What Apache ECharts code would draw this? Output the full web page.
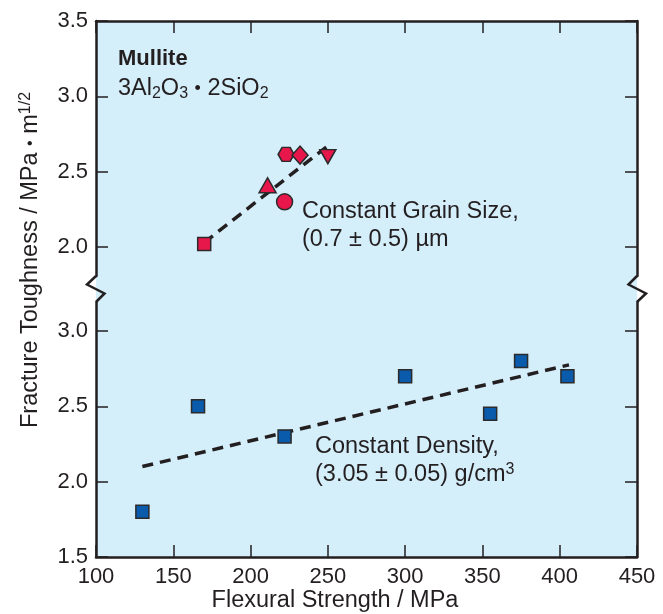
<!DOCTYPE html>
<html>
<head>
<meta charset="utf-8">
<script src="https://cdn.jsdelivr.net/npm/echarts@6/dist/echarts.min.js"></script>
<style>
  html, body { margin: 0; padding: 0; background: #fff; }
  #chart { width: 663px; height: 614px; }
</style>
</head>
<body>
<div id="chart"></div>
<script>
// x axis ticks (MPa)
const strengthTicks = [100, 150, 200, 250, 300, 350, 400, 450];
// y ticks for the two halves of the broken axis
const upperTicks = [2.0, 2.5, 3.0, 3.5];
const lowerTicks = [1.5, 2.0, 2.5, 3.0];

// constant grain size (upper half)
const grainStrength = [170, 211, 222, 223, 232, 250];
const grainToughness = [2.02, 2.41, 2.30, 2.615, 2.61, 2.60];
const grainFitX = [170, 251];
const grainFitY = [2.03, 2.68];

// constant density (lower half)
const densityStrength = [130, 166, 222, 300, 355, 375, 405];
const densityToughness = [1.80, 2.50, 2.30, 2.70, 2.45, 2.80, 2.70];
const densityFitX = [130, 406];
const densityFitY = [2.10, 2.775];

const ink = '#231f20';
const bg = '#d4eefa';
const font = '"Liberation Sans", Arial, sans-serif';
const gridLeft = 96, gridRight = 637;

let myChart = echarts.init(document.getElementById('chart'));

function yAxis(gridIndex, min, max, ticks, pos) {
    return {
        type: 'value', gridIndex: gridIndex, position: pos, min: min, max: max,
        axisLine: {show: true, onZero: false, lineStyle: {color: ink, width: 2.5}},
        axisTick: {show: true, inside: true, length: 12, customValues: ticks, lineStyle: {color: ink, width: 1.5}},
        axisLabel: {
            show: pos === 'left', customValues: ticks, margin: 8,
            color: ink, fontSize: 22, fontFamily: font,
            formatter: v => v.toFixed(1)
        },
        splitLine: {show: false}
    };
}
function xAxis(gridIndex, pos, labels) {
    return {
        type: 'value', gridIndex: gridIndex, position: pos,
        min: strengthTicks[0], max: strengthTicks[strengthTicks.length - 1], interval: 50,
        axisLine: {show: true, onZero: false, lineStyle: {color: ink, width: 2.5}},
        axisTick: {show: true, inside: true, length: 12, lineStyle: {color: ink, width: 1.5}},
        axisLabel: {show: labels, margin: 9, color: ink, fontSize: 22, fontFamily: font},
        splitLine: {show: false}
    };
}

const hexagon = 'path://M-1,0 L-0.5,-0.866 L0.5,-0.866 L1,0 L0.5,0.866 L-0.5,0.866 Z';
const grainSymbols = ['rect', 'triangle', 'circle', hexagon, 'diamond', 'triangle'];
const grainSizes = [13, [17, 15], 16, [16, 14], [16, 18], [16, 14]];
const grainRotate = [0, 0, 0, 0, 0, 180];

const markerStyle = {borderColor: '#2b2b2b', borderWidth: 1.5, opacity: 1};
const txt = '23.5px ' + font;
const supSub = {fontSize: 16, fontFamily: font, fill: ink, lineHeight: 14};

myChart.setOption({
    animation: false,
    backgroundColor: '#fff',
    grid: [
        {left: gridLeft, width: gridRight - gridLeft, top: 21, height: 255, show: true, backgroundColor: bg, borderWidth: 0},
        {left: gridLeft, width: gridRight - gridLeft, top: 302, height: 255, show: true, backgroundColor: bg, borderWidth: 0}
    ],
    xAxis: [
        xAxis(0, 'top', false),
        xAxis(1, 'bottom', true)
    ],
    yAxis: [
        yAxis(0, 1.808, 3.5, upperTicks, 'left'),
        yAxis(0, 1.808, 3.5, upperTicks, 'right'),
        yAxis(1, 1.5, 3.192, lowerTicks, 'left'),
        yAxis(1, 1.5, 3.192, lowerTicks, 'right')
    ],
    series: [
        {
            type: 'line', xAxisIndex: 0, yAxisIndex: 0, symbol: 'none', z: 3,
            lineStyle: {color: ink, width: 3.5, type: [11, 7]},
            data: grainFitX.map((x, i) => [x, grainFitY[i]])
        },
        {
            type: 'scatter', xAxisIndex: 0, yAxisIndex: 0, z: 4,
            itemStyle: Object.assign({color: '#e8174b'}, markerStyle),
            data: grainStrength.map((x, i) => ({
                value: [x, grainToughness[i]],
                symbol: grainSymbols[i], symbolSize: grainSizes[i], symbolRotate: grainRotate[i]
            }))
        },
        {
            type: 'line', xAxisIndex: 1, yAxisIndex: 2, symbol: 'none', z: 3,
            lineStyle: {color: ink, width: 3.5, type: [11, 7]},
            data: densityFitX.map((x, i) => [x, densityFitY[i]])
        },
        {
            type: 'scatter', xAxisIndex: 1, yAxisIndex: 2, z: 4,
            symbol: 'rect', symbolSize: 13,
            itemStyle: Object.assign({color: '#0a5bab'}, markerStyle),
            data: densityStrength.map((x, i) => [x, densityToughness[i]])
        }
    ],
    graphic: [
        // fill the gap at the axis break
        {type: 'rect', z: -10, shape: {x: gridLeft, y: 275, width: gridRight - gridLeft, height: 28}, style: {fill: bg}},
        {type: 'polyline', z: 10, shape: {points: [[96, 276], [87, 284.5], [104.5, 293.5], [96, 302]]},
         style: {stroke: ink, lineWidth: 2.5, fill: null}},
        {type: 'polyline', z: 10, shape: {points: [[637, 276], [628.5, 284.5], [646, 293.5], [637, 302]]},
         style: {stroke: ink, lineWidth: 2.5, fill: null}},
        {type: 'text', z: 10, x: 118, y: 59, style: {
            text: 'Mullite', fill: ink, font: 'bold 22px ' + font, verticalAlign: 'middle'}},
        {type: 'text', z: 10, x: 118, y: 89, style: {
            text: '3Al{s|2}O{s|3} {d|•} 2SiO{s|2}', fill: ink, font: txt,
            verticalAlign: 'middle', lineHeight: 26,
            rich: {
                s: Object.assign({verticalAlign: 'bottom'}, supSub),
                d: {fontSize: 18, fontFamily: font, fill: ink, verticalAlign: 'middle', lineHeight: 26}
            }}},
        {type: 'text', z: 10, x: 302, y: 212, style: {
            text: 'Constant Grain Size,', fill: ink, font: txt, verticalAlign: 'middle'}},
        {type: 'text', z: 10, x: 302, y: 240, style: {
            text: '(0.7 ± 0.5) µm', fill: ink, font: txt, verticalAlign: 'middle'}},
        {type: 'text', z: 10, x: 315, y: 447, style: {
            text: 'Constant Density,', fill: ink, font: txt, verticalAlign: 'middle'}},
        {type: 'text', z: 10, x: 315, y: 475, style: {
            text: '(3.05 ± 0.05) g/cm{p|3}', fill: ink, font: txt,
            verticalAlign: 'middle', lineHeight: 26,
            rich: {p: Object.assign({verticalAlign: 'top'}, supSub)}}},
        {type: 'text', z: 10, x: 335, y: 601, style: {
            text: 'Flexural Strength / MPa', fill: ink, font: txt,
            align: 'center', verticalAlign: 'middle'}},
        {type: 'text', z: 10, x: 31, y: 260, rotation: Math.PI / 2, style: {
            text: 'Fracture Toughness / MPa {d|•} m{p|1/2}', fill: ink, font: txt,
            align: 'center', verticalAlign: 'middle', lineHeight: 26,
            rich: {
                p: Object.assign({verticalAlign: 'top'}, supSub),
                d: {fontSize: 16, fontFamily: font, fill: ink, verticalAlign: 'middle', lineHeight: 26}
            }}}
    ]
});
</script>
</body>
</html>
